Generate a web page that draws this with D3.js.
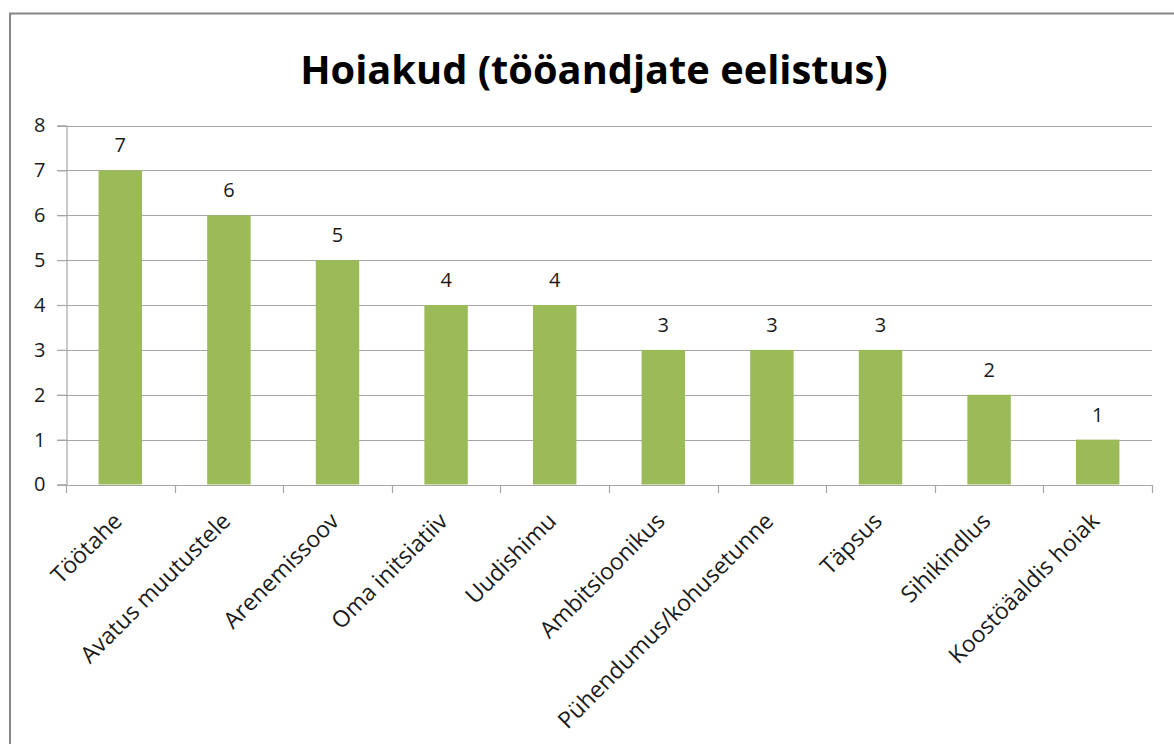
<!DOCTYPE html>
<html><head><meta charset="utf-8">
<script src="https://cdn.jsdelivr.net/npm/d3@7"></script>
<style>html,body{margin:0;padding:0;background:#fff;}svg{display:block;}</style>
</head><body>
<svg id="chart" width="1174" height="744"></svg>
<script>
const title = "Hoiakud (tööandjate eelistus)";
const categories = ["Töötahe","Avatus muutustele","Arenemissoov","Oma initsiatiiv","Uudishimu","Ambitsioonikus","Pühendumus/kohusetunne","Täpsus","Sihikindlus","Koostöäaldis hoiak"];
const values = [7,6,5,4,4,3,3,3,2,1];
const yTicks = [0,1,2,3,4,5,6,7,8];

(function(){
const svg = d3.select("#chart");
const font = "'Open Sans', 'Liberation Sans', sans-serif";

// chart border
svg.append("rect").attr("x",10).attr("y",13.5).attr("width",1200).attr("height",800)
  .attr("fill","#fff").attr("stroke","#868686").attr("stroke-width",2);

const pl = 66, pr = 1152, pt = 125.5, pb = 484.5;
const x = d3.scaleBand().domain(categories).range([pl,pr]).paddingInner(0.6).paddingOuter(0.3);
const y = d3.scaleLinear().domain([0,8]).range([pb,pt]);

// gridlines
svg.append("g").selectAll("line").data(yTicks.filter(d=>d>0)).join("line")
  .attr("x1",pl-9).attr("x2",pr).attr("y1",d=>Math.round(y(d))+0.5).attr("y2",d=>Math.round(y(d))+0.5)
  .attr("stroke","#a6a6a6").attr("stroke-width",1.2);

// y axis
const yAxis = d3.axisLeft(y).tickValues(yTicks).tickSize(9).tickPadding(12).tickFormat(d3.format("d"));
const gy = svg.append("g").attr("transform",`translate(${pl+0.5},0)`).call(yAxis);
gy.select(".domain").attr("stroke","#a6a6a6").attr("stroke-width",1.2);
gy.selectAll(".tick line").attr("stroke","#a6a6a6").attr("stroke-width",1.2);
gy.selectAll(".tick text").attr("font-family",font).attr("font-size",20).attr("fill","#1a1a1a");

// x axis baseline + ticks at band boundaries
svg.append("line").attr("x1",pl-9).attr("x2",pr).attr("y1",Math.round(pb)+0.5).attr("y2",Math.round(pb)+0.5)
  .attr("stroke","#a6a6a6").attr("stroke-width",1.2);
const bounds = d3.range(categories.length+1).map(i => pl + i*(pr-pl)/categories.length);
svg.append("g").selectAll("line").data(bounds).join("line")
  .attr("x1",d=>Math.round(d)+0.5).attr("x2",d=>Math.round(d)+0.5)
  .attr("y1",Math.round(pb)).attr("y2",Math.round(pb)+8)
  .attr("stroke","#a6a6a6").attr("stroke-width",1.2);

// bars
svg.append("g").selectAll("rect").data(categories).join("rect")
  .attr("x",d=>x(d)).attr("width",x.bandwidth())
  .attr("y",(d,i)=>y(values[i])).attr("height",(d,i)=>y(0)-y(values[i]))
  .attr("fill","#9bbb59");

// value labels
svg.append("g").selectAll("text").data(categories).join("text")
  .attr("x",d=>x(d)+x.bandwidth()/2).attr("y",(d,i)=>y(values[i])-18)
  .attr("text-anchor","middle").attr("font-family",font).attr("font-size",20).attr("fill","#1a1a1a")
  .text((d,i)=>values[i]);

// category labels
svg.append("g").selectAll("text").data(categories).join("text")
  .attr("transform",d=>`translate(${x(d)+x.bandwidth()/2+3},${pb+38}) rotate(-45)`)
  .attr("text-anchor","end").attr("font-family",font).attr("font-size",23).attr("fill","#1a1a1a")
  .text(d=>d);

// title
const t = svg.append("text").attr("x",594).attr("y",84).attr("text-anchor","middle")
  .attr("font-family",font).attr("font-weight","bold").attr("font-size",36).attr("fill","#000")
  .text(title);
const tl = t.node().getComputedTextLength();
if (tl > 0) t.attr("font-size", 36*588/tl);
})();
</script>
</body></html>
